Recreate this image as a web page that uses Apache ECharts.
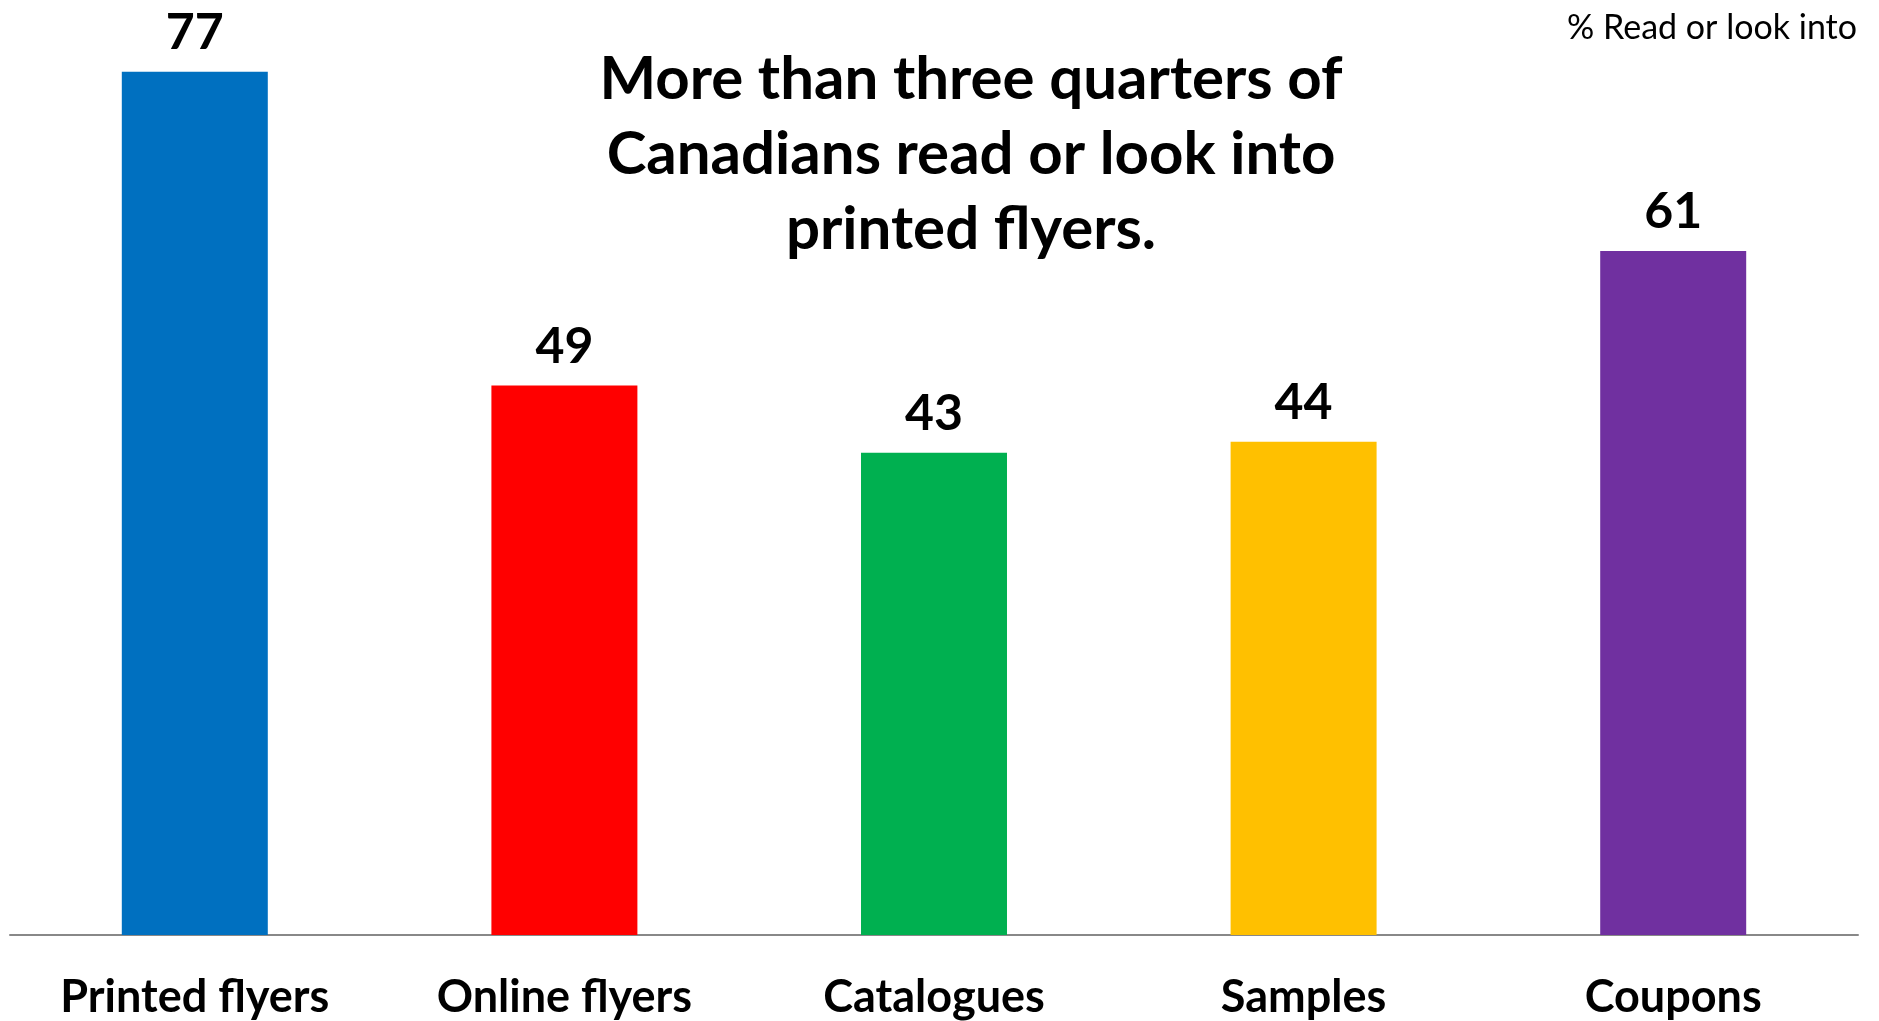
<!DOCTYPE html>
<html>
<head>
<meta charset="utf-8">
<script src="https://cdn.jsdelivr.net/npm/echarts@6/dist/echarts.min.js"></script>
<style>
html,body{margin:0;padding:0;background:#fff;}
#chart{width:1879px;height:1021px;}
</style>
</head>
<body>
<div id="chart"></div>
<script>
const categories = ['Printed flyers', 'Online flyers', 'Catalogues', 'Samples', 'Coupons'];
const values = [77, 49, 43, 44, 61];
const titleText = 'More than three quarters of\nCanadians read or look into\nprinted flyers.';
const unitText = '% Read or look into';
const palette = ['#0070C0', '#FF0000', '#00B050', '#FFC000', '#7030A0'];

const FONT = 'Lato, "Open Sans", sans-serif';
const chart = echarts.init(document.getElementById('chart'));
chart.setOption({
  animation: false,
  backgroundColor: '#ffffff',
  title: [
    {
      text: titleText,
      left: 966,
      top: 37,
      textAlign: 'center',
      textStyle: { fontFamily: FONT, fontSize: 60, fontWeight: 'bold', color: '#000', lineHeight: 75 }
    },
    {
      text: unitText,
      right: 17,
      top: 6,
      textStyle: { fontFamily: FONT, fontSize: 34, fontWeight: 'normal', color: '#000' }
    }
  ],
  grid: { left: 10, right: 21, top: 38, bottom: 86, containLabel: false },
  xAxis: {
    type: 'category',
    data: categories,
    axisLine: { lineStyle: { color: '#888888', width: 2 } },
    axisTick: { show: false },
    axisLabel: { fontFamily: FONT, fontSize: 45, fontWeight: 'bold', color: '#000', margin: 40 }
  },
  yAxis: {
    type: 'value', min: 0, max: 80, show: false,
    splitLine: { show: false }
  },
  series: [{
    type: 'bar',
    data: values.map((v, i) => ({ value: v, itemStyle: { color: palette[i] } })),
    barWidth: '39.5%',
    label: {
      show: true, position: 'top', distance: 14,
      fontFamily: FONT, fontSize: 50, fontWeight: 'bold', color: '#000'
    }
  }]
});
</script>
</body>
</html>
